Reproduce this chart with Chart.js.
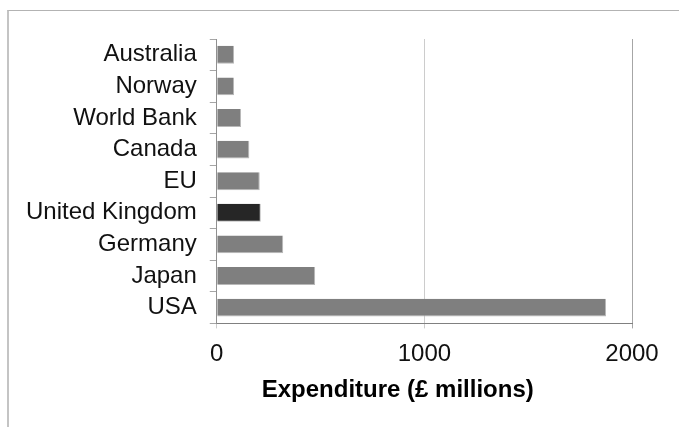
<!DOCTYPE html>
<html>
<head>
<meta charset="utf-8">
<script src="https://cdn.jsdelivr.net/npm/chart.js@4"></script>
<style>
  html, body { margin: 0; padding: 0; background: #fff; }
  #frame { position: absolute; left: 7px; top: 10px; width: 700px; height: 440px;
           border-top: 1px solid #b3b3b3; border-left: 2px solid #c4c4c4; }
  #graph { position: absolute; left: 0; top: 0; }
</style>
</head>
<body>
<div id="frame"></div>
<canvas id="graph" width="679" height="427"></canvas>
<script>
const countries = ['Australia', 'Norway', 'World Bank', 'Canada', 'EU', 'United Kingdom', 'Germany', 'Japan', 'USA'];
const expenditure = [83, 83, 117, 157, 207, 212, 320, 474, 1875];
const xTicks = [0, 1000, 2000];

const barColors = countries.map(c => c === 'United Kingdom' ? '#262626' : '#7f7f7f');

const data = {
  labels: countries,
  datasets: [
    {
      label: 'Expenditure',
      data: expenditure,
      backgroundColor: barColors,
      borderColor: '#b8b8b8',
      borderWidth: {top: 0, right: 1, bottom: 1, left: 0},
      categoryPercentage: 0.8,
      barPercentage: 0.71
    }
  ]
};

const config = {
  type: 'bar',
  data: data,
  options: {
    indexAxis: 'y',
    responsive: false,
    animation: false,
    layout: { padding: { left: 13, right: 47, top: 39, bottom: 22 } },
    plugins: { legend: { display: false }, tooltip: { enabled: false } },
    scales: {
      x: {
        min: 0,
        max: 2000,
        afterBuildTicks: axis => { axis.ticks = xTicks.map(v => ({ value: v })); },
        grid: {
          color: ctx => (ctx.tick && ctx.tick.value === 2000) ? '#a6a6a6' : '#cccccc',
          tickLength: 5
        },
        border: { color: '#808080', width: 1 },
        ticks: {
          color: '#111',
          font: { family: 'Liberation Sans', size: 24 },
          padding: 12,
          maxRotation: 0,
          callback: v => String(v)
        },
        title: {
          display: true,
          // trailing spaces shift the centred title left, as in the original
          text: 'Expenditure (£ millions)        ',
          color: '#000',
          font: { family: 'Liberation Sans', size: 24, weight: 'bold' },
          padding: { top: -5, bottom: 0 }
        }
      },
      y: {
        grid: { drawOnChartArea: false, color: '#a6a6a6', tickLength: 7 },
        border: { color: '#909090', width: 1 },
        ticks: { color: '#111', font: { family: 'Liberation Sans', size: 24 }, padding: 13, autoSkip: false }
      }
    }
  }
};

const myChart = new Chart(document.getElementById('graph'), config);
</script>
</body>
</html>
